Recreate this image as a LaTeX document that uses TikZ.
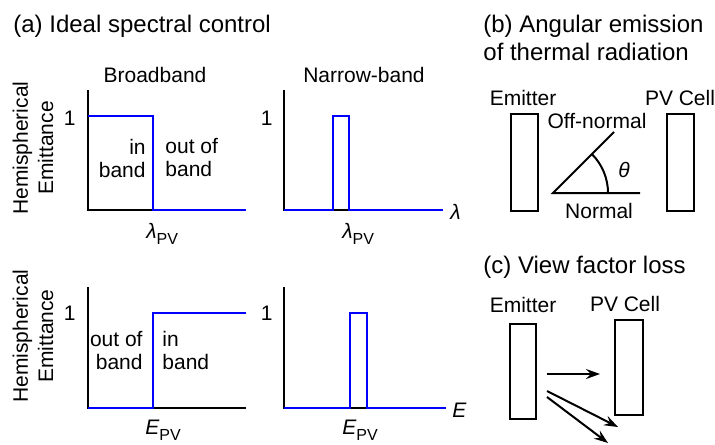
\documentclass[tikz,border=0pt]{standalone}
\usepackage{fontspec}
\setmainfont{Liberation Sans}
\usetikzlibrary{arrows.meta,positioning}
\newcommand{\subPV}[1]{{\itshape #1}\raisebox{-0.3em}{\fontsize{8}{9}\selectfont PV}}

\begin{document}
\begin{tikzpicture}[x=0.5pt,y=-0.5pt,
  font=\fontsize{10.5}{11.5}\selectfont,
  >={Stealth[length=7pt,width=5pt,inset=2.5pt]},
  ttl/.style={font=\fontsize{12}{14}\selectfont, inner sep=0pt},
  lbl/.style={inner sep=0pt},
  ylbl/.style={inner sep=0pt, rotate=90, align=center, font=\fontsize{10.5}{12.6}\selectfont},
  ax/.style={draw=black, line width=1pt},
  spec/.style={draw=blue, line width=1.2pt},
  plate/.style={draw=black, line width=1pt, inner sep=0pt},
  ray/.style={draw=black, line width=1pt, ->},
]
\useasboundingbox (0,0) rectangle (715,444);
% ---------------- (a) ideal spectral control ----------------
\node[ttl, anchor=base west] (titleA) at (13,33) {(a) Ideal spectral control};
\node[lbl, anchor=base] (bb) at (155,83) {Broadband};
\node[lbl, anchor=base] (nb) at (364,83) {Narrow-band};
\node[ylbl] (yTop) at (33,148) {Hemispherical\\Emittance};
\node[ylbl] (yBot) at (33,336) {Hemispherical\\Emittance};
% top left: broadband vs wavelength
\draw[ax] (88,90) -- (88,210) -- (246,210);
\draw[spec] (88,116) -- (153,116) -- (153,210) -- (246,210);
\node[lbl, anchor=base east] (oneTL) at (76,125) {1};
\node[lbl, align=right, anchor=east] (inTL) at (146,158) {in\\band};
\node[lbl, align=left, anchor=west] (outTL) at (165,158) {out of\\band};
\node[lbl, anchor=base west] (lamTL) at (146,238) {\subPV{λ}};
% top right: narrow-band vs wavelength
\draw[ax] (284,90) -- (284,210) -- (443,210);
\draw[spec] (284,210) -- (333,210) -- (333,116) -- (349,116) -- (349,210) -- (443,210);
\node[lbl, anchor=base east] (oneTR) at (273,125) {1};
\node[lbl, anchor=base west] (lamTR) at (342,238) {\subPV{λ}};
\node[lbl, anchor=base west] (lamAx) at (450,219) {\itshape λ};
% bottom left: broadband vs energy
\draw[ax] (88,287) -- (88,408) -- (246,408);
\draw[spec] (88,408) -- (153,408) -- (153,313) -- (246,313);
\node[lbl, anchor=base east] (oneBL) at (76,320) {1};
\node[lbl, align=right, anchor=east] (outBL) at (143,350) {out of\\band};
\node[lbl, align=left, anchor=west] (inBL) at (162,350) {in\\band};
\node[lbl, anchor=base west] (eTL) at (145,434) {\subPV{E}};
% bottom right: narrow-band vs energy
\draw[ax] (284,287) -- (284,408) -- (446,408);
\draw[spec] (284,408) -- (350,408) -- (350,313) -- (367,313) -- (367,408) -- (446,408);
\node[lbl, anchor=base east] (oneBR) at (273,320) {1};
\node[lbl, anchor=base west] (eBR) at (342,434) {\subPV{E}};
\node[lbl, anchor=base west] (eAx) at (452,417) {\itshape E};
% ---------------- (b) angular emission ----------------
\node[ttl, align=left, anchor=north west] (titleB) at (483,15) {(b) Angular emission\\of thermal radiation};
\node[plate, minimum width=13.5pt, minimum height=48.5pt] (emitB) at (524,162.5) {};
\node[plate, minimum width=13.5pt, minimum height=48.5pt] (cellB) at (680,162.5) {};
\node[lbl, anchor=base] (emitBlbl) at (523,105) {Emitter};
\node[lbl, anchor=base] (cellBlbl) at (680,105) {PV Cell};
\node[lbl, anchor=base] (offn) at (597,128) {Off-normal};
\node[lbl, anchor=base] (norm) at (599,218) {Normal};
\node[lbl, anchor=base] (theta) at (624,177) {\itshape θ};
\coordinate (orig) at (553,193);
\draw[ax] (640,193) -- (orig) -- (614,132);
\draw[ax] (orig) ++(27.5pt,0pt) arc[start angle=0, end angle=45, radius=27.5pt];
% ---------------- (c) view factor loss ----------------
\node[ttl, anchor=base west] (titleC) at (483,273) {(c) View factor loss};
\node[plate, minimum width=13pt, minimum height=47.5pt] (emitC) at (522.5,371.5) {};
\node[plate, minimum width=14pt, minimum height=47.5pt] (cellC) at (628.5,367.5) {};
\node[lbl, anchor=base] (emitClbl) at (523,312) {Emitter};
\node[lbl, anchor=base] (cellClbl) at (625,311) {PV Cell};
\coordinate (r1) at (547,374);
\coordinate (r2) at (547,391);
\coordinate (r3) at (547,397);
\coordinate (h1) at (600,374);
\coordinate (h2) at (618,427);
\coordinate (h3) at (608,443);
\draw[ray] (r1) -- (h1);
\draw[ray] (r2) -- (h2);
\draw[ray] (r3) -- (h3);
\end{tikzpicture}
\end{document}
